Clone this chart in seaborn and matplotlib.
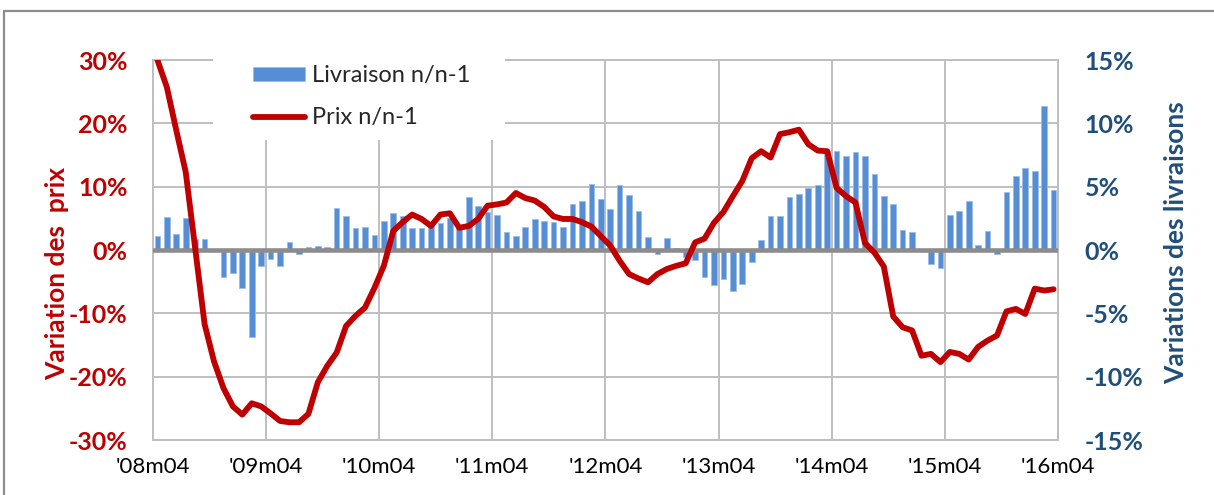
import numpy as np
import pandas as pd
import seaborn as sns
import matplotlib.pyplot as plt
from matplotlib.patches import Rectangle
from matplotlib.lines import Line2D

# variations n/n-1 des livraisons (axe de droite, %)
livraison = [1.1, 2.6, 1.3, 2.5, 0.9, 0.9, 0.0, -2.1, -1.8, -3.0, -6.9, -1.3,
             -0.7, -1.3, 0.6, -0.3, 0.2, 0.3, 0.2, 3.3, 2.7, 1.7, 1.85, 1.2,
             2.3, 2.9, 2.65, 1.7, 1.75, 1.9, 2.1, 2.5, 1.75, 4.15, 3.5, 3.0,
             2.8, 1.4, 1.1, 1.8, 2.45, 2.3, 2.25, 1.8, 3.6, 3.85, 5.2, 4.0,
             3.25, 5.1, 4.35, 3.05, 1.0, -0.3, 0.95, 0.15, -0.55, -0.75, -2.15, -2.75,
             -2.3, -3.2, -2.65, -0.95, 0.8, 2.7, 2.65, 4.2, 4.4, 4.9, 5.1, 7.85,
             7.8, 7.45, 7.75, 7.45, 6.0, 4.3, 3.6, 1.6, 1.4, 0.0, -1.1, -1.4,
             2.75, 3.05, 3.85, 0.4, 1.5, -0.35, 4.55, 5.85, 6.5, 6.2, 11.35, 4.75]

# variations n/n-1 des prix (axe de gauche, %)
prix = [30.0, 25.7, 18.9, 12.3, 0.3, -11.7, -17.6, -21.8, -24.7, -26.0, -24.2, -24.7,
        -25.8, -27.0, -27.2, -27.2, -25.9, -20.9, -18.3, -16.2, -12.0, -10.4, -9.1, -6.0,
        -2.5, 3.0, 4.4, 5.6, 4.9, 3.8, 5.6, 5.8, 3.5, 3.8, 4.9, 7.0,
        7.2, 7.5, 9.0, 8.2, 7.8, 6.8, 5.3, 4.9, 4.9, 4.4, 3.7, 2.2,
        0.7, -1.7, -3.8, -4.5, -5.1, -3.8, -3.0, -2.5, -2.1, 1.2, 1.8, 4.3,
        6.0, 8.5, 10.9, 14.5, 15.6, 14.6, 18.3, 18.6, 19.0, 16.7, 15.7, 15.6,
        9.8, 8.5, 7.5, 1.1, -0.4, -2.6, -10.5, -12.2, -12.7, -16.7, -16.4, -17.7,
        -16.1, -16.4, -17.3, -15.3, -14.3, -13.5, -9.7, -9.3, -10.1, -6.1, -6.4, -6.2]

mois = pd.period_range('2008-04', periods=96, freq='M').strftime('%Ym%m')
etiquettes_x = ["'08m04", "'09m04", "'10m04", "'11m04", "'12m04",
                "'13m04", "'14m04", "'15m04", "'16m04"]
etiquettes_gauche = ['-30%', '-20%', '-10%', '0%', '10%', '20%', '30%']
etiquettes_droite = ['-15%', '-10%', '-5%', '0%', '5%', '10%', '15%']

df = pd.DataFrame({'mois': mois, 'pos': np.arange(len(mois)),
                   'livraison': livraison, 'prix': prix})

sns.set_style('white')
plt.rcParams['font.family'] = ['Lato', 'DejaVu Sans']

ROUGE = '#C00000'
BLEU_TXT = '#1F4E79'
GRIS = '#BFBFBF'

fig = plt.figure(figsize=(12.14, 4.95), dpi=100)
ax = fig.add_axes([152.7 / 1214, 55 / 495, 905.6 / 1214, 380 / 495])

# barres : livraisons, axe de droite
sns.barplot(data=df, x='mois', y='livraison', ax=ax, color='#558ED5',
            saturation=1, width=0.6, errorbar=None, label='Livraison n/n-1',
            edgecolor='#9DBDE6', linewidth=0.6)
if ax.get_legend() is not None:
    ax.get_legend().remove()
ax.set_ylim(-15, 15)
ax.set_yticks(np.arange(-15, 16, 5))
ax.set_yticklabels(etiquettes_droite)
ax.set_axisbelow(True)
ax.grid(True, color=GRIS, lw=1.4)
ax.axhline(0, color='#8C8C8C', lw=3.3, zorder=3)
for s in ax.spines.values():
    s.set_color(GRIS)
    s.set_linewidth(1.4)

# ligne : prix, axe de gauche
ax2 = ax.twinx()
sns.lineplot(data=df, x='pos', y='prix', ax=ax2, color=ROUGE, linewidth=4.2,
             label='Prix n/n-1', legend=False, solid_joinstyle='round',
             solid_capstyle='round')
if ax2.get_legend() is not None:
    ax2.get_legend().remove()
ax2.set_ylim(-30, 30)
ax2.set_yticks(np.arange(-30, 31, 10))
ax2.set_yticklabels(etiquettes_gauche)
ax2.yaxis.tick_left()
ax.yaxis.tick_right()
for s in ax2.spines.values():
    s.set_visible(False)
ax2.tick_params(axis='y', length=0, pad=18, labelsize=18, labelcolor=ROUGE)
for t in ax2.get_yticklabels():
    t.set_fontweight('bold')
ax.tick_params(axis='y', length=0, pad=19, labelsize=18, labelcolor=BLEU_TXT)
for t in ax.get_yticklabels():
    t.set_fontweight('bold')
ax2.set_ylabel('')
ax2.set_xlabel('')

ax.set_xticks(np.arange(-0.5, 96, 12))
ax.set_xticklabels(etiquettes_x)
ax.tick_params(axis='x', length=0, pad=12, labelsize=16, labelcolor='black')
ax.set_xlim(-0.5, 95.5)
ax.set_xlabel('')
ax.set_ylabel('')

fig.text(57 / 1214, 1 - 273 / 495, 'Variation des  prix', rotation=90,
         ha='center', va='center', color=ROUGE, fontsize=19, fontweight='bold')
fig.text(1176 / 1214, 1 - 243 / 495, 'Variations des livraisons', rotation=90,
         ha='center', va='center', color=BLEU_TXT, fontsize=19, fontweight='bold')

# légende sur fond blanc
fig.add_artist(Rectangle((213 / 1214, 1 - 140 / 495), 292 / 1214, 85 / 495,
                         transform=fig.transFigure, facecolor='white',
                         edgecolor='none', zorder=1))
h1, l1 = ax.get_legend_handles_labels()
h2, l2 = ax2.get_legend_handles_labels()
leg = fig.legend(h1 + h2, l1 + l2, loc='upper left',
                 bbox_to_anchor=(253 / 1214, 1 - 65 / 495), frameon=False,
                 fontsize=17, borderaxespad=0, borderpad=0, labelspacing=0.9,
                 handlelength=2.2, handletextpad=0.3, handleheight=0.55)
leg.set_zorder(2)

# cadre extérieur
fig.add_artist(Line2D([4 / 1214, 1], [1 - 11 / 495] * 2, transform=fig.transFigure,
                      color='#8C8C8C', lw=1.6))
fig.add_artist(Line2D([4 / 1214] * 2, [0, 1 - 11 / 495], transform=fig.transFigure,
                      color='#8C8C8C', lw=1.6))

fig.savefig('out.png', dpi=100)
